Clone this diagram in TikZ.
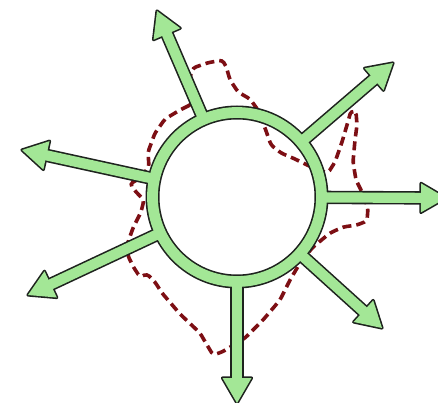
\documentclass[tikz,border=0pt]{standalone}
\usetikzlibrary{calc}
\definecolor{ringgreen}{RGB}{163,231,150}
\definecolor{edgeblack}{RGB}{30,35,30}
\definecolor{dashred}{RGB}{125,15,20}
\tikzset{
  dashloop/.style={draw=dashred, line width=3.6pt, dash pattern=on 9pt off 5pt, rounded corners=3pt},
  ringedge/.style={draw=edgeblack, line width=14pt},
  ringfill/.style={draw=ringgreen, line width=10.8pt},
  shaftedge/.style={draw=edgeblack, line width=13.4pt},
  shaftfill/.style={draw=ringgreen, line width=10.2pt},
  headedge/.style={fill=edgeblack, draw=edgeblack, line width=3.2pt, line join=round},
  headfill/.style={fill=ringgreen}
}
\begin{document}
\begin{tikzpicture}[x=1pt,y=-1pt]
\useasboundingbox (0,0) rectangle (438,403);
\clip (0,0) rectangle (438,403);
\coordinate (C) at (237,197);
\coordinate (T1) at (157,11);
\coordinate (T2) at (393,63);
\coordinate (T3) at (446,198);
\coordinate (T4) at (382,328);
\coordinate (T5) at (237,403);
\coordinate (T6) at (28,295);
\coordinate (T7) at (22,150);
% dashed boundary (behind)
\draw[dashloop] (192,104) -- (180,110) -- (165,119) -- (155,133) -- (148,152) -- (149,167)
  -- (140,178) -- (130,184) -- (136,192) -- (144,200) -- (141,212) -- (133,228) -- (127,245)
  -- (128,256) -- (134,268) -- (140,277) -- (147,274) -- (155,282) -- (162,293) -- (180,314)
  -- (200,333) -- (207,345) -- (213,355) -- (222,352) -- (232,346) -- (245,338) -- (263,320)
  -- (280,300) -- (290,280) -- (300,263) -- (313,247) -- (330,233) -- (343,227) -- (357,225)
  -- (367,221) -- (368,208) -- (362,192) -- (356,180) -- (353,162) -- (355,140) -- (357,125)
  -- (356,112) -- (351,111) -- (347,125) -- (342,142) -- (335,162) -- (328,173) -- (318,170)
  -- (305,164) -- (295,159) -- (281,153) -- (271,145) -- (265,128) -- (258,110) -- (250,99)
  -- (238,92) -- (230,80) -- (226,66) -- (222,60) -- (207,63) -- (193,68) -- (190,76)
  -- (195,92) -- cycle;
% black layer
\draw[ringedge] (C) circle[radius=84.5];
\foreach \t in {T1,T2,T3,T4,T5,T6,T7}{
  \coordinate (S) at ($(C)!84.5pt!(\t)$);
  \coordinate (B) at ($(\t)!22pt!(C)$);
  \coordinate (H) at ($(\t)!25pt!(C)$);
  \draw[shaftedge] (S) -- (B);
  \path[headedge] (\t) -- ($(H)!14.5pt!90:(\t)$) -- ($(H)!14.5pt!-90:(\t)$) -- cycle;
}
% green layer
\draw[ringfill] (C) circle[radius=84.5];
\foreach \t in {T1,T2,T3,T4,T5,T6,T7}{
  \coordinate (S) at ($(C)!84.5pt!(\t)$);
  \coordinate (B) at ($(\t)!20pt!(C)$);
  \coordinate (H) at ($(\t)!25pt!(C)$);
  \draw[shaftfill] (S) -- (B);
  \path[headfill] (\t) -- ($(H)!14.5pt!90:(\t)$) -- ($(H)!14.5pt!-90:(\t)$) -- cycle;
}
\end{tikzpicture}
\end{document}
